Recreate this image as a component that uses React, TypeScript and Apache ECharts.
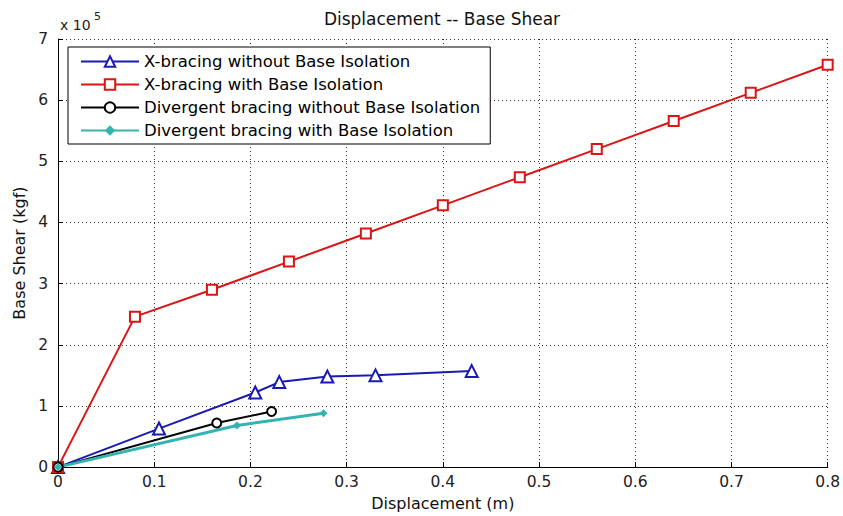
import React, { useEffect, useRef } from "react";
import * as echarts from "echarts";

const seriesNames = [
  "X-bracing without Base Isolation",
  "X-bracing with Base Isolation",
  "Divergent bracing without Base Isolation",
  "Divergent bracing with Base Isolation",
];

// Displacement (m)
const xBlue = [0, 0.105, 0.205, 0.23, 0.28, 0.33, 0.43];
const xRed = [0, 0.08, 0.16, 0.24, 0.32, 0.4, 0.48, 0.56, 0.64, 0.72, 0.8];
const xBlack = [0, 0.165, 0.222];
const xCyan = [0, 0.186, 0.276];

// Base shear (kgf)
const yBlue = [0, 63000, 122000, 139000, 148000, 150000, 157000];
const yRed = [0, 246000, 290000, 336000, 382000, 428000, 474000, 520000, 566000, 612000, 658000];
const yBlack = [0, 72000, 91000];
const yCyan = [0, 68000, 88000];

const title = "Displacement -- Base Shear";
const xName = "Displacement (m)";
const yName = "Base Shear (kgf)";

const pair = (xs: number[], ys: number[]) => xs.map((x, i) => [x, ys[i]]);

export default function App() {
  const ref = useRef<HTMLDivElement>(null);
  useEffect(() => {
    const chart = echarts.init(ref.current!, null, { renderer: "svg" });
    const font = "DejaVu Sans";
    const axisCommon = {
      type: "value",
      nameLocation: "middle",
      nameTextStyle: { fontSize: 16, color: "#111", fontFamily: font },
      axisLine: { onZero: false, lineStyle: { color: "#000", width: 1 } },
      axisTick: { inside: true, length: 5, lineStyle: { color: "#000" } },
      splitLine: { show: true, lineStyle: { type: [1, 3], color: "#333", width: 1 } },
    };
    chart.setOption({
      animation: false,
      backgroundColor: "#fff",
      textStyle: { fontFamily: font },
      grid: { left: 58, right: 13, top: 39, bottom: 48 },
      xAxis: {
        ...axisCommon,
        min: 0,
        max: 0.8,
        interval: 0.1,
        name: xName,
        nameGap: 25,
        axisLabel: {
          fontSize: 15.5,
          color: "#222",
          margin: 7,
          fontFamily: font,
          formatter: (v: number) => String(Math.round(v * 10) / 10),
        },
      },
      yAxis: {
        ...axisCommon,
        min: 0,
        max: 700000,
        interval: 100000,
        name: yName,
        nameGap: 27,
        axisLabel: {
          fontSize: 15.5,
          color: "#222",
          margin: 10,
          fontFamily: font,
          formatter: (v: number) => String(Math.round(v / 100000)),
        },
      },
      legend: {
        left: 68,
        top: 47,
        orient: "vertical",
        data: seriesNames,
        backgroundColor: "#fff",
        borderColor: "#000",
        borderWidth: 1,
        padding: [6, 10, 5, 12],
        itemGap: 6,
        itemWidth: 58,
        itemHeight: 13,
        textStyle: { fontSize: 16.5, color: "#000", fontFamily: font },
      },
      graphic: [
        {
          type: "text",
          x: 442,
          y: 19,
          style: {
            text: title,
            fontSize: 17,
            fontFamily: font,
            fill: "#111",
            align: "center",
            verticalAlign: "middle",
          },
        },
        {
          type: "text",
          x: 60,
          y: 25,
          style: { text: "x 10", fontSize: 14, fontFamily: font, fill: "#222", verticalAlign: "middle" },
        },
        {
          type: "text",
          x: 94,
          y: 16,
          style: { text: "5", fontSize: 11, fontFamily: font, fill: "#222", verticalAlign: "middle" },
        },
      ],
      series: [
        {
          name: seriesNames[0],
          type: "line",
          data: pair(xBlue, yBlue),
          symbol: "emptyTriangle",
          symbolSize: 12,
          lineStyle: { color: "#1a1ab4", width: 2 },
          itemStyle: { color: "#1a1ab4", borderWidth: 2 },
        },
        {
          name: seriesNames[1],
          type: "line",
          data: pair(xRed, yRed),
          symbol: "emptyRect",
          symbolSize: 10,
          lineStyle: { color: "#dc1414", width: 2 },
          itemStyle: { color: "#dc1414", borderWidth: 2 },
        },
        {
          name: seriesNames[2],
          type: "line",
          data: pair(xBlack, yBlack),
          symbol: "emptyCircle",
          symbolSize: 9,
          lineStyle: { color: "#000", width: 2 },
          itemStyle: { color: "#000", borderWidth: 2 },
        },
        {
          name: seriesNames[3],
          type: "line",
          data: pair(xCyan, yCyan),
          symbol: "diamond",
          symbolSize: 8,
          lineStyle: { color: "#34b4b0", width: 3 },
          itemStyle: { color: "#34b4b0" },
        },
      ],
    });
    return () => chart.dispose();
  }, []);
  return (
    <div
      ref={ref}
      style={{ position: "fixed", left: 0, top: 0, width: 843, height: 516 }}
    />
  );
}
